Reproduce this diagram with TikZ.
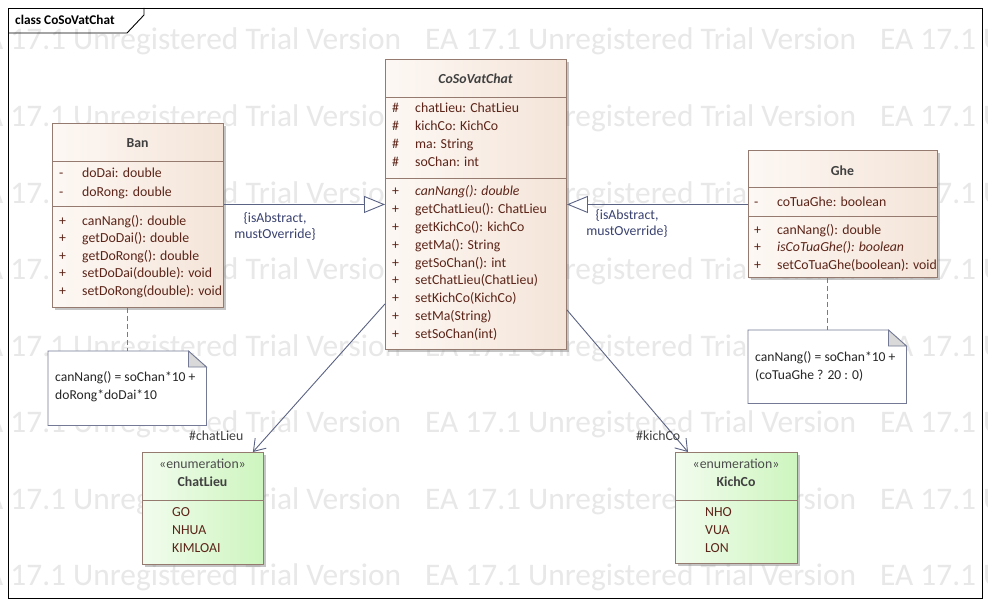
\documentclass[tikz,border=0pt]{standalone}
\usepackage{fontspec}
\setmainfont{Carlito}
\usetikzlibrary{arrows.meta}
\usetikzlibrary{shadows}
\usetikzlibrary{positioning}

\definecolor{clsborder}{HTML}{957A70}
\definecolor{clsleft}{HTML}{FDF8F4}
\definecolor{clsright}{HTML}{F4E4D8}
\definecolor{enumleft}{HTML}{F2FCEE}
\definecolor{enumright}{HTML}{CDF5BE}
\definecolor{memtext}{HTML}{5C2418}
\definecolor{edgecol}{HTML}{5B6384}
\definecolor{labeltext}{HTML}{3A4270}
\definecolor{wmark}{HTML}{E8E8E8}

\tikzset{
  box/.style={draw=clsborder, line width=0.9pt, anchor=north west, inner sep=0pt,
    drop shadow={shadow xshift=3pt, shadow yshift=-3pt, fill=black!45, opacity=0.5}},
  cls/.style={box, left color=clsleft, right color=clsright},
  enumbox/.style={box, left color=enumleft, right color=enumright},
  divider/.style={draw=clsborder, line width=0.9pt},
  title/.style={anchor=base, inner sep=0pt, font=\fontsize{13.8}{16}\selectfont\bfseries, text=black!75},
  mem/.style={anchor=base west, inner sep=0pt, font=\fontsize{13.8}{16}\selectfont, text=memtext},
  notetext/.style={anchor=base west, inner sep=0pt, font=\fontsize{13.6}{16}\selectfont, text=black!85},
  note/.style={anchor=north west, inner sep=0pt},
  noteline/.style={draw=edgecol!85, line width=0.8pt},
  generalize/.style={draw=edgecol, line width=0.9pt, -{Triangle[open, length=21pt, width=17pt, fill=white]}},
  assoc/.style={draw=edgecol, line width=0.9pt, -{Straight Barb[length=11pt, width=15pt]}},
  elabel/.style={inner sep=0pt, font=\fontsize{13.8}{16}\selectfont, text=labeltext, align=center},
  rolelabel/.style={anchor=base west, inner sep=0pt, font=\fontsize{13.8}{16}\selectfont, text=black!75},
  wmtext/.style={anchor=base west, inner sep=0pt, font=\fontsize{31.4}{36}\selectfont, text=wmark},
}

\begin{document}
\begin{tikzpicture}[x=1pt, y=-1pt]
            % page and watermark
            \useasboundingbox (0,0) rectangle (988,607);
            \fill[white] (0,0) rectangle (988,607);
            \begin{scope}
              \clip (0,0) rectangle (988,607);
              \foreach \y [count=\r] in {50,126.5,...,590}
                \foreach \x [count=\c] in {-30,425,880}
                  \node[wmtext] (wm-\r-\c) at (\x,\y) {EA 17.1 Unregistered Trial Version};
            \end{scope}

            % diagram frame
            \draw[line width=0.9pt] (8,8) rectangle (982,598);
            \draw[line width=0.9pt] (8,33) -- (127,33) -- (144,15) -- (144,8);
            \node[anchor=base west, inner sep=0pt, font=\fontsize{13.3}{16}\selectfont\bfseries] (frameT) at (15,25) {class CoSoVatChat};

            % Ban
            \node[cls, minimum width=171pt, minimum height=184pt] (ban) at (52,123) {};
            \node[title] (banT) at (137.5,147.3) {Ban};
            \draw[divider] (52,161) -- (223,161);
            \draw[divider] (52,206) -- (223,206);
            \foreach \y/\v/\t [count=\i] in {178/-/doDai: double, 196/-/doRong: double,
                225/+/canNang(): double, 242.5/+/getDoDai(): double, 260/+/getDoRong(): double,
                277.5/+/setDoDai(double): void, 295/+/setDoRong(double): void} {
              \node[mem] (banV\i) at (59,\y) {\v};
              \node[mem] (banM\i) at (82,\y) {\t};
            }

            % CoSoVatChat
            \node[cls, minimum width=181pt, minimum height=290pt] (cs) at (385,59) {};
            \node[title, font=\fontsize{13.8}{16}\selectfont\bfseries\itshape] (csT) at (475.5,83.3) {CoSoVatChat};
            \draw[divider] (385,97) -- (566,97);
            \draw[divider] (385,178) -- (566,178);
            \foreach \y/\v/\t [count=\i] in {113/\#/chatLieu: ChatLieu, 131/\#/kichCo: KichCo,
                149/\#/ma: String, 167/\#/soChan: int,
                195/+/\textit{canNang(): double}, 213/+/getChatLieu(): ChatLieu,
                231/+/getKichCo(): kichCo, 249/+/getMa(): String, 267/+/getSoChan(): int,
                284.5/+/setChatLieu(ChatLieu), 302/+/setKichCo(KichCo),
                320/+/setMa(String), 338/+/setSoChan(int)} {
              \node[mem] (csV\i) at (392,\y) {\v};
              \node[mem] (csM\i) at (415,\y) {\t};
            }

            % Ghe
            \node[cls, minimum width=189pt, minimum height=127pt] (ghe) at (748,150) {};
            \node[title] (gheT) at (842.5,175.7) {Ghe};
            \draw[divider] (748,187) -- (937,187);
            \draw[divider] (748,216) -- (937,216);
            \foreach \y/\v/\t [count=\i] in {206.5/-/coTuaGhe: boolean,
                234/+/canNang(): double, 251.5/+/\textit{isCoTuaGhe(): boolean},
                269/+/setCoTuaGhe(boolean): void} {
              \node[mem] (gheV\i) at (754,\y) {\v};
              \node[mem] (gheM\i) at (777,\y) {\t};
            }

            % enumerations
            \node[enumbox, minimum width=121pt, minimum height=112pt] (chat) at (142,452) {};
            \node[title, font=\fontsize{13.8}{16}\selectfont, text=black!70] (chatS) at (202.5,468.3) {«enumeration»};
            \node[title] (chatT) at (202.5,486.7) {ChatLieu};
            \draw[divider] (142,500) -- (263,500);
            \foreach \y/\t [count=\i] in {516.5/GO, 534.5/NHUA, 552.5/KIMLOAI}
              \node[mem] (chatM\i) at (172,\y) {\t};

            \node[enumbox, minimum width=122pt, minimum height=111pt] (kich) at (675,452) {};
            \node[title, font=\fontsize{13.8}{16}\selectfont, text=black!70] (kichS) at (736,468.3) {«enumeration»};
            \node[title] (kichT) at (736,486.7) {KichCo};
            \draw[divider] (675,500) -- (797,500);
            \foreach \y/\t [count=\i] in {516.5/NHO, 534.5/VUA, 552.5/LON}
              \node[mem] (kichM\i) at (705,\y) {\t};

            % notes
            \node[note, minimum width=158pt, minimum height=74pt] (banNote) at (48,351) {};
            \filldraw[noteline, fill=white] (banNote.south west) -- (banNote.north west)
              -- ([xshift=-18pt]banNote.north east) -- ([yshift=-16pt]banNote.north east)
              -- (banNote.south east) -- cycle;
            \filldraw[noteline, fill=black!15] ([xshift=-18pt]banNote.north east)
              -- ([xshift=-18pt, yshift=-16pt]banNote.north east) -- ([yshift=-16pt]banNote.north east) -- cycle;
            \node[notetext] (banN1) at (55,381.7) {canNang() = soChan*10 +};
            \node[notetext] (banN2) at (55,399.3) {doRong*doDai*10};

            \node[note, minimum width=158pt, minimum height=73pt] (gheNote) at (748,330) {};
            \filldraw[noteline, fill=white] (gheNote.south west) -- (gheNote.north west)
              -- ([xshift=-18pt]gheNote.north east) -- ([yshift=-16pt]gheNote.north east)
              -- (gheNote.south east) -- cycle;
            \filldraw[noteline, fill=black!15] ([xshift=-18pt]gheNote.north east)
              -- ([xshift=-18pt, yshift=-16pt]gheNote.north east) -- ([yshift=-16pt]gheNote.north east) -- cycle;
            \node[notetext] (gheN1) at (755,361.7) {canNang() = soChan*10 +};
            \node[notetext] (gheN2) at (755,379.3) {(coTuaGhe ? 20 : 0)};

            % note links
            \draw[noteline, dash pattern=on 5pt off 3pt] (ban.south -| banNote.north) -- (banNote.north);
            \draw[noteline, dash pattern=on 5pt off 3pt] (ghe.south -| gheNote.north) -- (gheNote.north);

            % generalizations
            \draw[generalize] (ban.east |- cs.west) -- (cs.west);
            \draw[generalize] (ghe.west |- cs.east) -- (cs.east);
            \node[elabel, anchor=north] (banG) at (275,212.5) {\{isAbstract,\\mustOverride\}};
            \node[elabel, anchor=north] (gheG) at (627,209.5) {\{isAbstract,\\mustOverride\}};

            % associations
            \draw[assoc] ([yshift=46pt]cs.south west) -- ([xshift=-11pt]chat.north east);
            \draw[assoc] ([yshift=40pt]cs.south east) -- ([xshift=13pt]kich.north west);
            \node[rolelabel] (chatR) at (189,440) {\#chatLieu};
            \node[rolelabel] (kichR) at (636,440.7) {\#kichCo};
\end{tikzpicture}
\end{document}
